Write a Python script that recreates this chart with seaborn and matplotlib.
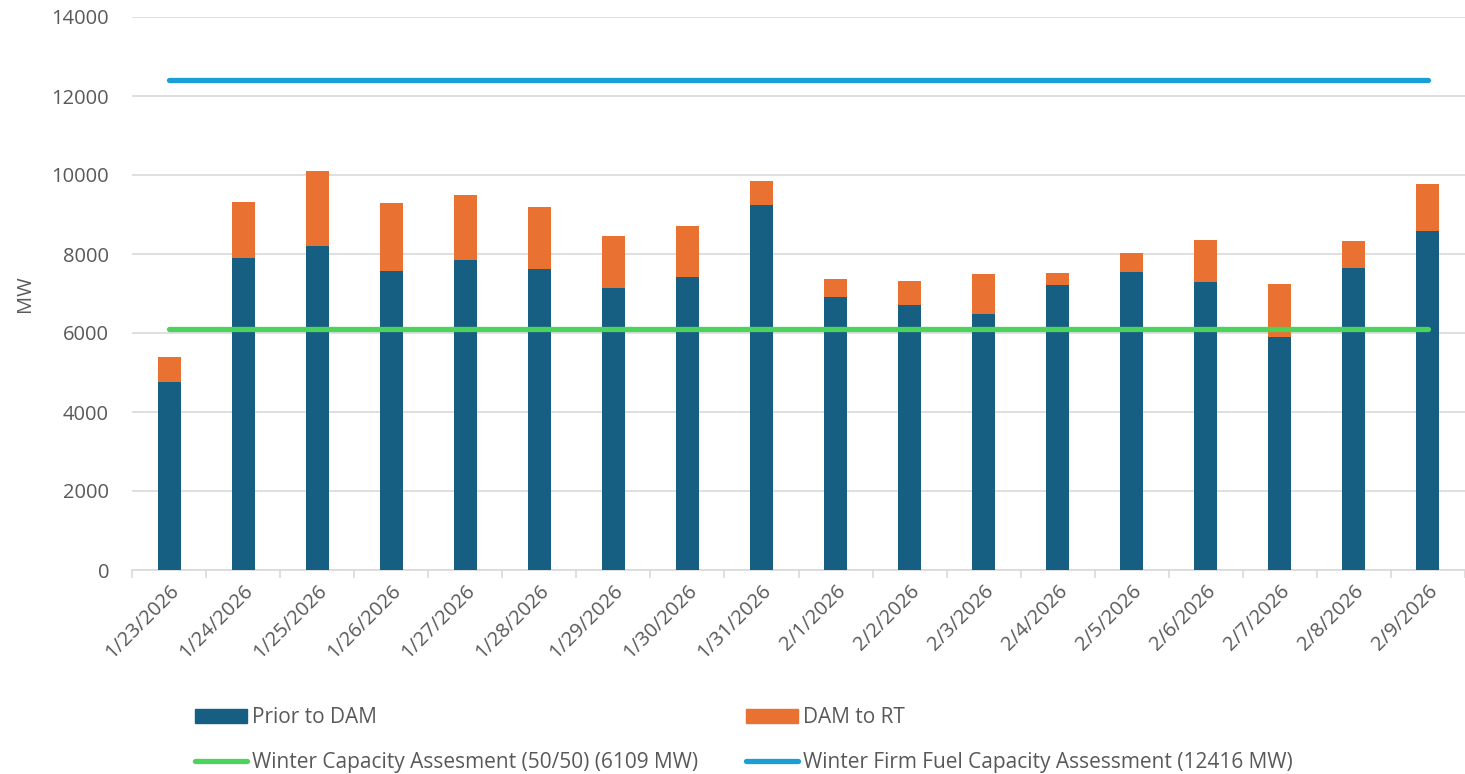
import matplotlib
matplotlib.use("Agg")
import matplotlib.pyplot as plt
import seaborn as sns
import pandas as pd
from matplotlib.patches import Patch
from matplotlib.lines import Line2D

dates = ["1/23/2026", "1/24/2026", "1/25/2026", "1/26/2026", "1/27/2026", "1/28/2026",
         "1/29/2026", "1/30/2026", "1/31/2026", "2/1/2026", "2/2/2026", "2/3/2026",
         "2/4/2026", "2/5/2026", "2/6/2026", "2/7/2026", "2/8/2026", "2/9/2026"]
prior_to_dam = [4760, 7905, 8210, 7570, 7855, 7630, 7150, 7425, 9250, 6920, 6710, 6490,
                7215, 7555, 7300, 5900, 7640, 8580]
total_rt = [5390, 9315, 10110, 9290, 9485, 9190, 8455, 8700, 9850, 7360, 7310, 7485,
            7520, 8015, 8360, 7240, 8320, 9780]
winter_capacity = 6109
winter_firm_fuel = 12416
y_ticks = [0, 2000, 4000, 6000, 8000, 10000, 12000, 14000]

df = pd.DataFrame({
    "date": dates,
    "prior": prior_to_dam,
    "total": total_rt,
    "cap": [winter_capacity] * len(dates),
    "firm": [winter_firm_fuel] * len(dates),
})

BLUE = "#165E82"
ORANGE = "#E97132"
GREEN = "#4CD35C"
LBLUE = "#1A9ED8"
TXT = "#595959"
FS_TICK = 14.5
FS_LEG = 15

sns.set_theme(style="white")
plt.rcParams["font.family"] = ["Open Sans", "DejaVu Sans"]

fig = plt.figure(figsize=(14.65, 7.74), dpi=100)
ax = fig.add_axes([132 / 1465, 1 - 570 / 774, (1465 - 132) / 1465, (570 - 17) / 774])

sns.barplot(data=df, x="date", y="total", color=ORANGE, width=0.31, ax=ax,
            saturation=1, edgecolor="none", zorder=2)
sns.barplot(data=df, x="date", y="prior", color=BLUE, width=0.31, ax=ax,
            saturation=1, edgecolor="none", zorder=3)
sns.lineplot(data=df, x="date", y="cap", color=GREEN, lw=3.8, ax=ax, zorder=4,
             solid_capstyle="round")
sns.lineplot(data=df, x="date", y="firm", color=LBLUE, lw=3.8, ax=ax, zorder=4,
             solid_capstyle="round")

ax.set_xlim(-0.5, len(dates) - 0.5)
ax.set_ylim(0, 14000)
ax.set_yticks(y_ticks)
ax.set_yticklabels([str(v) for v in y_ticks], fontsize=FS_TICK, color=TXT)
ax.yaxis.grid(True, color="#D9D9D9", lw=1.2, zorder=0)
ax.set_axisbelow(True)
ax.tick_params(axis="y", length=0, pad=16.5)

ax.set_xticks(range(len(dates)))
ax.set_xticklabels(dates, rotation=45, ha="right", rotation_mode="anchor",
                   fontsize=FS_TICK, color=TXT)
ax.tick_params(axis="x", which="major", length=0, pad=8)
ax.set_xticks([i - 0.5 for i in range(len(dates) + 1)], minor=True)
ax.tick_params(axis="x", which="minor", length=6, color="#D9D9D9", width=1.2, bottom=True)

for s in ["top", "right", "left"]:
    ax.spines[s].set_visible(False)
ax.spines["bottom"].set_color("#D9D9D9")
ax.spines["bottom"].set_linewidth(1.2)

ax.set_xlabel("")
ax.set_ylabel("MW", fontsize=FS_TICK, color=TXT, labelpad=12)

handles = [
    Patch(color=BLUE, label="Prior to DAM"),
    Line2D([0], [0], color=GREEN, lw=3.8, solid_capstyle="round",
           label="Winter Capacity Assesment (50/50) (6109 MW)"),
    Patch(color=ORANGE, label="DAM to RT"),
    Line2D([0], [0], color=LBLUE, lw=3.8, solid_capstyle="round",
           label="Winter Firm Fuel Capacity Assessment (12416 MW)"),
]
leg = fig.legend(handles=handles, ncol=2, loc="lower left",
                 bbox_to_anchor=(176 / 1465, -18 / 774), frameon=False,
                 fontsize=FS_LEG, labelcolor=TXT, handlelength=2.5, handleheight=0.7,
                 handletextpad=0.25, columnspacing=2.3, labelspacing=1.15)

fig.savefig("out.png", dpi=100)
